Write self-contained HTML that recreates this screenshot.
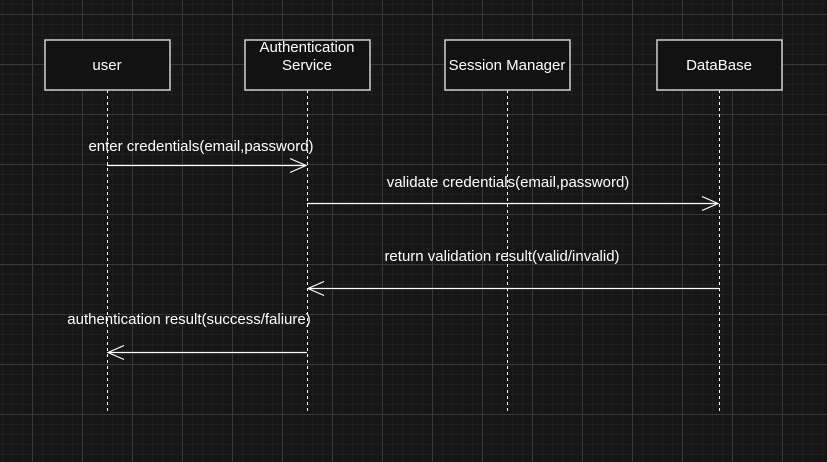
<!DOCTYPE html>
<html><head><style>
html,body{margin:0;padding:0;background:#181818;}
</style></head><body>
<svg width="827" height="462" xmlns="http://www.w3.org/2000/svg" style="display:block">
<defs>
<pattern id="mi" width="10" height="10" patternUnits="userSpaceOnUse" x="2" y="4">
<path d="M0 0H10M0 0V10" stroke="#262626" stroke-width="1" fill="none"/>
</pattern>
<pattern id="ma" width="50" height="50" patternUnits="userSpaceOnUse" x="32" y="14">
<path d="M0 0.5H50M0.5 0V50" stroke="#383838" stroke-width="1" fill="none"/>
</pattern>
</defs>
<rect width="827" height="462" fill="#161616"/>
<rect width="827" height="462" fill="url(#mi)"/>
<rect width="827" height="462" fill="url(#ma)"/>
<g stroke="#fff" stroke-width="1" stroke-dasharray="3,3" fill="none">
<path d="M107.5 90V413M307.5 90V413M507.5 90V413M719.5 90V413"/>
</g>
<g fill="#121212" stroke="#d0d0d0" stroke-width="1.5">
<rect x="45" y="40" width="125" height="50"/>
<rect x="245" y="40" width="125" height="50"/>
<rect x="445" y="40" width="125" height="50"/>
<rect x="657" y="40" width="125" height="50"/>
</g>
<g font-family="Liberation Sans, sans-serif" font-size="15" fill="#fff" text-anchor="middle">
<text x="107" y="70">user</text>
<text x="307" y="52">Authentication</text>
<text x="307" y="70">Service</text>
<text x="507" y="70">Session Manager</text>
<text x="719" y="70">DataBase</text>
<text x="201" y="151">enter credentials(email,password)</text>
<text x="508" y="187">validate credentials(email,password)</text>
<text x="502" y="261">return validation result(valid/invalid)</text>
<text x="189" y="324">authentication result(success/faliure)</text>
</g>
<g stroke="#fff" stroke-width="1.2" fill="none">
<path d="M107 165.5H306M290 158.5L306 165.5L290 172.5"/>
<path d="M307 203.5H718M702 196.5L718 203.5L702 210.5"/>
<path d="M719 288.5H308M324 281.5L308 288.5L324 295.5"/>
<path d="M307 352.5H108M124 345.5L108 352.5L124 359.5"/>
</g>
</svg>
</body></html>
